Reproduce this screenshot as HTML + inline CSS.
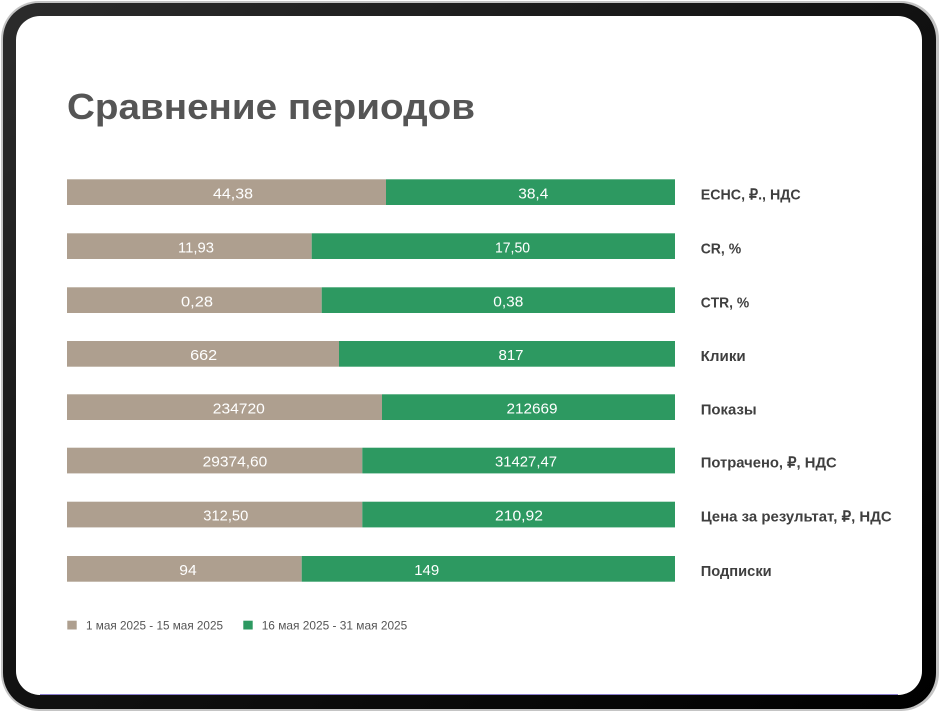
<!DOCTYPE html>
<html>
<head>
<meta charset="utf-8">
<style>
  html,body{margin:0;padding:0;background:#fff;}
  body{width:940px;height:712px;overflow:hidden;}
  svg{display:block;}
  text{font-family:"Liberation Sans","Noto Sans CJK SC",sans-serif;}
</style>
</head>
<body>
<svg width="940" height="712" viewBox="0 0 940 712" xmlns="http://www.w3.org/2000/svg">
  <defs>
    <linearGradient id="fr" x1="0" y1="0" x2="1" y2="1">
      <stop offset="0" stop-color="#2c2c2c"/>
      <stop offset="0.5" stop-color="#111"/>
      <stop offset="1" stop-color="#000"/>
    </linearGradient>
  </defs>
  <rect x="0" y="0" width="940" height="712" fill="#fff"/>
  <!-- device frame -->
  <rect x="1" y="1" width="938" height="710" rx="38" ry="38" fill="#c4c4c4"/>
  <rect x="3" y="3" width="933" height="706" rx="36" ry="36" fill="url(#fr)"/>
  <rect x="16" y="16" width="906" height="679" rx="24" ry="24" fill="#ffffff"/>
  <line x1="40" y1="694.5" x2="898" y2="694.5" stroke="#5a48b8" stroke-width="1" opacity="0.7"/>

  <!-- title -->
  <text x="67" y="119" font-size="36" font-weight="bold" fill="#555555" textLength="408" lengthAdjust="spacingAndGlyphs">Сравнение периодов</text>

  <!-- bars -->
  <g>
    <rect x="67" y="179.3" width="319" height="25.7" fill="#ae9f8f"/>
    <rect x="386" y="179.3" width="289" height="25.7" fill="#2d9961"/>

    <rect x="67" y="233.3" width="244.7" height="25.7" fill="#ae9f8f"/>
    <rect x="311.7" y="233.3" width="363.3" height="25.7" fill="#2d9961"/>

    <rect x="67" y="287.3" width="254.7" height="25.7" fill="#ae9f8f"/>
    <rect x="321.7" y="287.3" width="353.3" height="25.7" fill="#2d9961"/>

    <rect x="67" y="341" width="272" height="25.7" fill="#ae9f8f"/>
    <rect x="339" y="341" width="336" height="25.7" fill="#2d9961"/>

    <rect x="67" y="394.3" width="315" height="25.7" fill="#ae9f8f"/>
    <rect x="382" y="394.3" width="293" height="25.7" fill="#2d9961"/>

    <rect x="67" y="447.7" width="295.3" height="25.7" fill="#ae9f8f"/>
    <rect x="362.3" y="447.7" width="312.7" height="25.7" fill="#2d9961"/>

    <rect x="67" y="501.7" width="295.3" height="25.7" fill="#ae9f8f"/>
    <rect x="362.3" y="501.7" width="312.7" height="25.7" fill="#2d9961"/>

    <rect x="67" y="556" width="234.7" height="25.7" fill="#ae9f8f"/>
    <rect x="301.7" y="556" width="373.3" height="25.7" fill="#2d9961"/>
  </g>

  <!-- bar values -->
  <g font-size="15" fill="#ffffff" text-anchor="middle">
    <text x="233" y="198.3" textLength="40" lengthAdjust="spacingAndGlyphs">44,38</text>
    <text x="533.3" y="198.3" textLength="30" lengthAdjust="spacingAndGlyphs">38,4</text>

    <text x="196" y="252.3" textLength="36" lengthAdjust="spacingAndGlyphs">11,93</text>
    <text x="512.5" y="252.3" textLength="35" lengthAdjust="spacingAndGlyphs">17,50</text>

    <text x="197" y="306.3" textLength="32" lengthAdjust="spacingAndGlyphs">0,28</text>
    <text x="508.3" y="306.3" textLength="30" lengthAdjust="spacingAndGlyphs">0,38</text>

    <text x="203.7" y="360" textLength="27" lengthAdjust="spacingAndGlyphs">662</text>
    <text x="511" y="360" textLength="25" lengthAdjust="spacingAndGlyphs">817</text>

    <text x="238.8" y="413.3" textLength="52" lengthAdjust="spacingAndGlyphs">234720</text>
    <text x="532" y="413.3" textLength="51" lengthAdjust="spacingAndGlyphs">212669</text>

    <text x="235" y="466.7" textLength="64.6" lengthAdjust="spacingAndGlyphs">29374,60</text>
    <text x="526" y="466.7" textLength="62" lengthAdjust="spacingAndGlyphs">31427,47</text>

    <text x="225.8" y="520.7" textLength="45" lengthAdjust="spacingAndGlyphs">312,50</text>
    <text x="519" y="520.7" textLength="48" lengthAdjust="spacingAndGlyphs">210,92</text>

    <text x="188" y="575" textLength="17.4" lengthAdjust="spacingAndGlyphs">94</text>
    <text x="426.7" y="575" textLength="25" lengthAdjust="spacingAndGlyphs">149</text>
  </g>

  <!-- category labels -->
  <g font-size="15" font-weight="bold" fill="#3f3f3f">
    <text x="700.7" y="199.3" textLength="100" lengthAdjust="spacingAndGlyphs">ЕСНС, ₽., НДС</text>
    <text x="700.7" y="253.3" textLength="40.5" lengthAdjust="spacingAndGlyphs">CR, %</text>
    <text x="700.7" y="307.3" textLength="48.5" lengthAdjust="spacingAndGlyphs">CTR, %</text>
    <text x="700.7" y="361" textLength="45" lengthAdjust="spacingAndGlyphs">Клики</text>
    <text x="700.7" y="414.3" textLength="56" lengthAdjust="spacingAndGlyphs">Показы</text>
    <text x="700.7" y="467.7" textLength="136" lengthAdjust="spacingAndGlyphs">Потрачено, ₽, НДС</text>
    <text x="700.7" y="521.7" textLength="191" lengthAdjust="spacingAndGlyphs">Цена за результат, ₽, НДС</text>
    <text x="700.7" y="576" textLength="71" lengthAdjust="spacingAndGlyphs">Подписки</text>
  </g>

  <!-- legend -->
  <rect x="67.3" y="620.7" width="9.4" height="8.8" fill="#ae9f8f"/>
  <text x="86" y="629.5" font-size="12" fill="#555555" textLength="137" lengthAdjust="spacingAndGlyphs">1 мая 2025 - 15 мая 2025</text>
  <rect x="243.3" y="620.7" width="9.4" height="8.8" fill="#2d9961"/>
  <text x="261.7" y="629.5" font-size="12" fill="#555555" textLength="145.6" lengthAdjust="spacingAndGlyphs">16 мая 2025 - 31 мая 2025</text>
</svg>
</body>
</html>
